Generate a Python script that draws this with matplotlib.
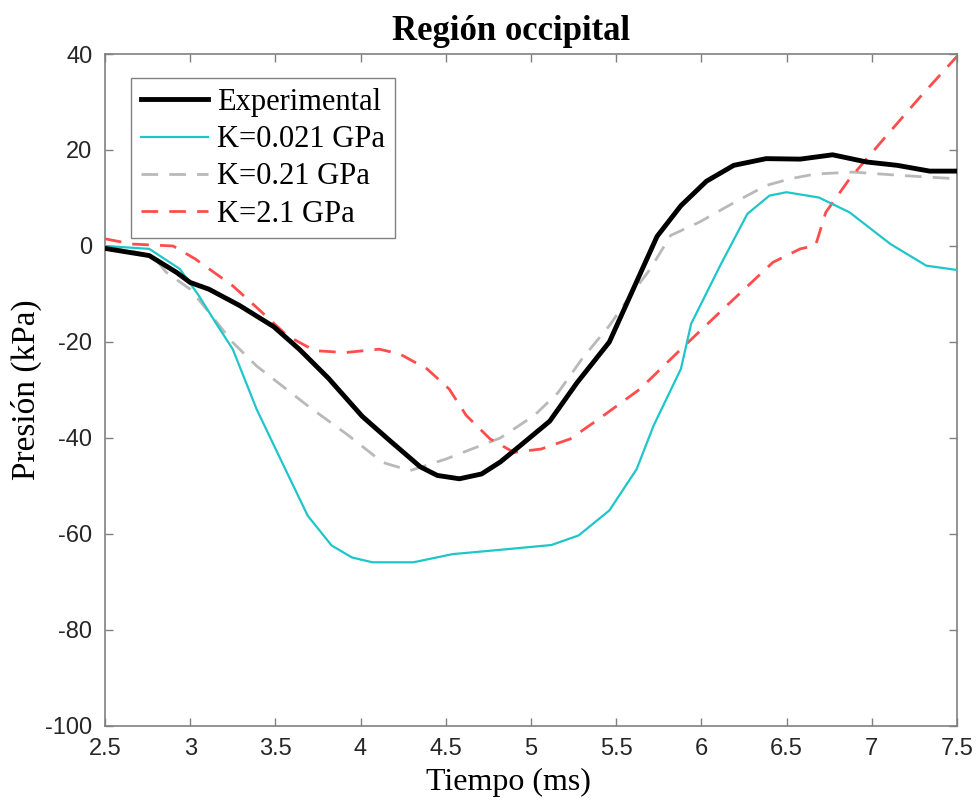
import matplotlib
matplotlib.use("Agg")
import matplotlib.pyplot as plt

plt.rcParams['axes.unicode_minus'] = False

# Datos
t_exp = [2.5, 2.76, 2.92, 3.00, 3.11, 3.29, 3.49, 3.64, 3.81, 4.01, 4.17, 4.35, 4.45, 4.58, 4.71, 4.82,
         4.93, 5.11, 5.27, 5.46, 5.60, 5.74, 5.88, 6.03, 6.19, 6.38, 6.58, 6.77, 6.97, 7.15, 7.34, 7.5]
p_exp = [-0.5, -2, -5.5, -7.6, -9, -12.4, -16.8, -21.5, -27.5, -35.5, -40.5, -46, -47.8, -48.5, -47.5, -45,
         -41.8, -36.5, -28.5, -20, -9, 2, 8.4, 13.5, 16.8, 18.2, 18.1, 19, 17.5, 16.8, 15.6, 15.6]

t_k1 = [2.5, 2.76, 2.94, 3.05, 3.15, 3.25, 3.39, 3.53, 3.69, 3.83, 3.95, 4.07, 4.31, 4.54, 4.82, 5.12,
        5.28, 5.46, 5.62, 5.72, 5.88, 5.94, 6.11, 6.27, 6.40, 6.50, 6.69, 6.87, 7.11, 7.32, 7.5]
p_k1 = [0, -0.6, -4.8, -10.3, -16, -21.5, -34, -44.4, -56.2, -62.4, -64.9, -65.9, -65.9, -64.2, -63.3, -62.3,
        -60.3, -55.1, -46.5, -37.4, -25.6, -16.2, -4.1, 6.7, 10.5, 11.2, 10.1, 7, 0.4, -4.1, -5]

t_k2 = [2.5, 2.78, 2.86, 3.00, 3.11, 3.25, 3.39, 3.69, 3.93, 4.13, 4.29, 4.50, 4.82, 5.02, 5.16, 5.30,
        5.46, 5.58, 5.70, 5.82, 5.99, 6.19, 6.38, 6.52, 6.67, 6.89, 7.17, 7.5]
p_k2 = [0, -2, -5.5, -9, -13.8, -20.1, -25, -33.3, -39.5, -45.1, -46.8, -44.4, -40, -35.3, -30.5, -23.5,
        -16.6, -10.5, -4.8, 2.2, 5, 9, 12.6, 14, 15, 15.4, 14.7, 14]

t_k3 = [2.5, 2.66, 2.90, 3.03, 3.25, 3.39, 3.57, 3.73, 3.91, 4.11, 4.23, 4.39, 4.52, 4.62, 4.76, 4.90,
        5.06, 5.23, 5.40, 5.64, 5.88, 6.15, 6.42, 6.58, 6.67, 6.73, 6.87, 7.07, 7.29, 7.5]
p_k3 = [1.5, 0.4, 0, -2.7, -8.3, -12.8, -18.7, -21.8, -22.2, -21.5, -22.5, -25.6, -29.8, -35.3, -40.2, -43,
        -42.3, -40.2, -36, -29.8, -21.5, -12.4, -3.4, -0.6, 0.1, 7, 14, 22.3, 31.3, 39.5]

labels = ["Experimental", "K=0.021 GPa", "K=0.21 GPa", "K=2.1 GPa"]
x_ticks = [2.5, 3, 3.5, 4, 4.5, 5, 5.5, 6, 6.5, 7, 7.5]
y_ticks = [-100, -80, -60, -40, -20, 0, 20, 40]

serif = ["Liberation Serif", "DejaVu Serif"]

fig = plt.figure(figsize=(9.8, 8.06), dpi=100)
ax = fig.add_axes([0.1071, 0.0993, 0.8694, 0.8337])

ax.plot(t_exp, p_exp, color="black", linewidth=3.5, label=labels[0], zorder=4)
ax.plot(t_k1, p_k1, color="#1fc6c9", linewidth=1.6, label=labels[1], zorder=3)
ax.plot(t_k2, p_k2, color="#b9b9b9", linewidth=2.0, linestyle=(0, (6, 4)), label=labels[2], zorder=2)
ax.plot(t_k3, p_k3, color="#ff4d4d", linewidth=2.0, linestyle=(0, (6, 4)), label=labels[3], zorder=2)

ax.set_xlim(2.5, 7.5)
ax.set_ylim(-100, 40)
ax.set_xticks(x_ticks)
ax.set_xticklabels([f"{v:g}" for v in x_ticks])
ax.set_yticks(y_ticks)
ax.tick_params(direction="in", length=6, width=1, color="#808080",
               top=True, right=True, labelsize=17, pad=9)
for lab in ax.get_xticklabels() + ax.get_yticklabels():
    lab.set_family("Liberation Sans")
    lab.set_color("#262626")
for s in ax.spines.values():
    s.set_color("#808080")
    s.set_linewidth(1.2)

ax.set_title("Región occipital", family=serif, fontsize=25, fontweight="bold", pad=10, x=0.4765)
ax.set_xlabel("Tiempo (ms)", family=serif, fontsize=23)
ax.xaxis.set_label_coords(0.474, -0.062)
ax.xaxis.label.set_va("top")
ax.set_ylabel("Presión (kPa)", family=serif, fontsize=24)
ax.yaxis.set_label_coords(-0.074, 0.5)

leg = ax.legend(loc="upper left", bbox_to_anchor=(0.0305, 0.964), borderaxespad=0,
                prop={"family": serif, "size": 22}, fancybox=False, framealpha=1,
                edgecolor="#808080", handlelength=2.2, handletextpad=0.3,
                labelspacing=0.27, borderpad=0.32)
leg.get_frame().set_linewidth(1.0)

fig.savefig("out.png", dpi=100)
